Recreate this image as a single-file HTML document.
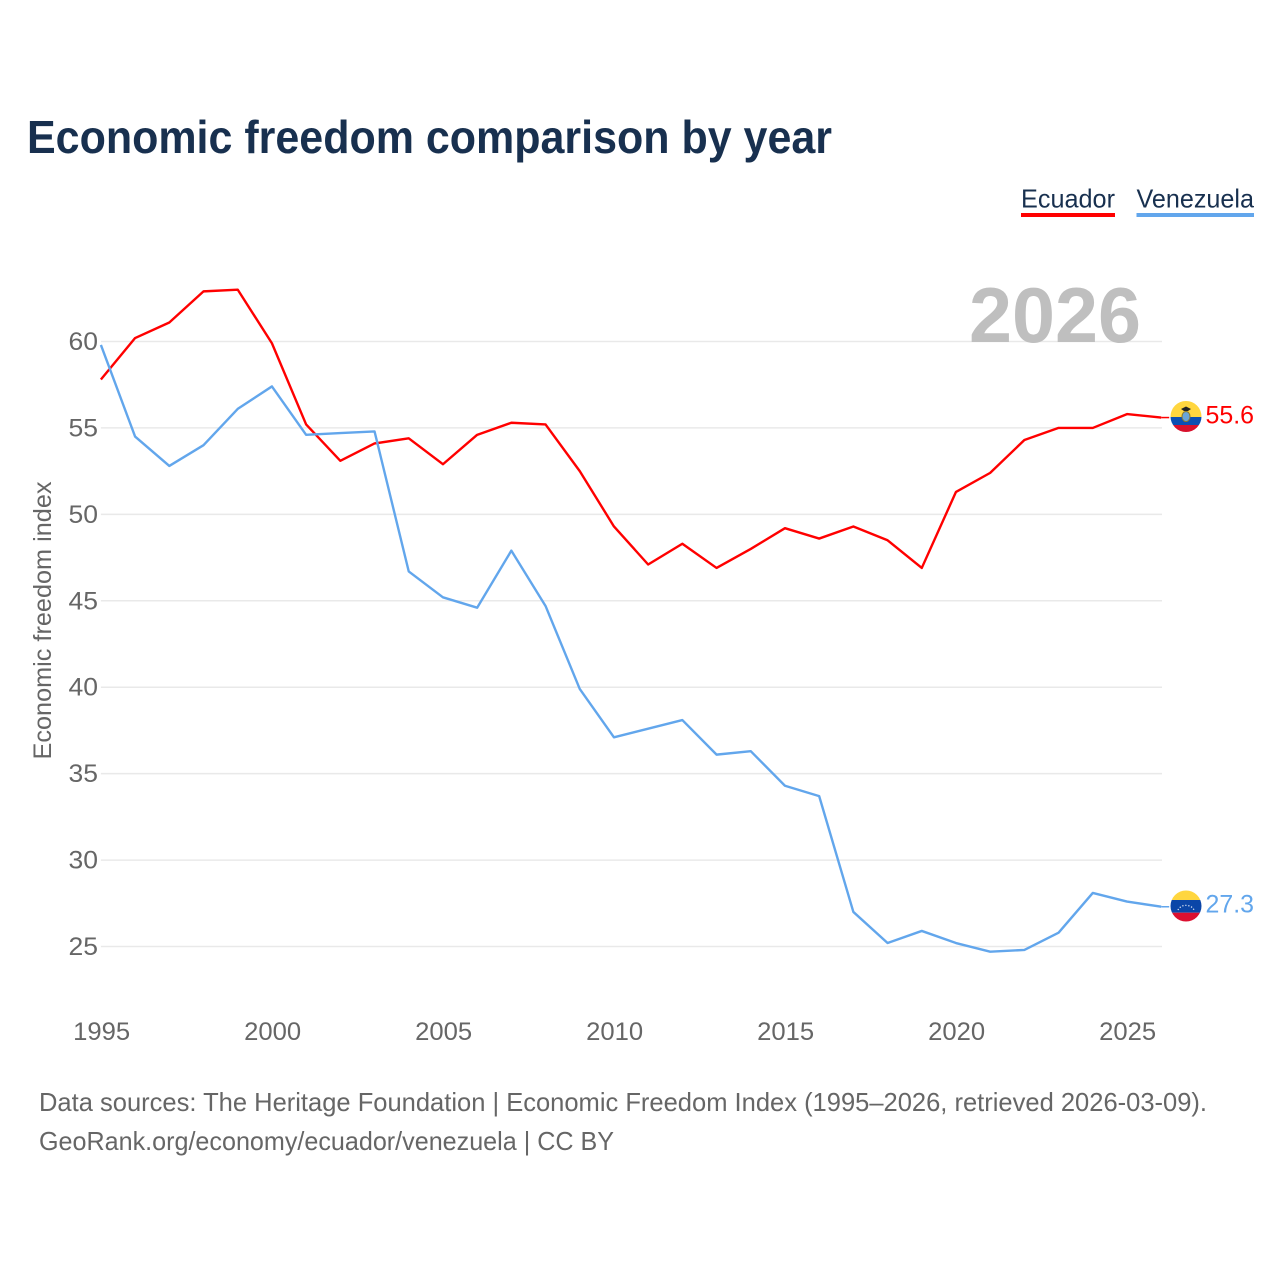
<!DOCTYPE html>
<html>
<head>
<meta charset="utf-8">
<style>
html,body{margin:0;padding:0;background:#fff;}
svg{display:block;}
text{font-family:"Liberation Sans",sans-serif;}
</style>
</head>
<body>
<svg id="chart" width="1280" height="1280" viewBox="0 0 1280 1280" xmlns="http://www.w3.org/2000/svg">
<rect width="1280" height="1280" fill="#fff"/>
<text x="27" y="153" font-size="46" font-weight="700" fill="#18304f" textLength="805" lengthAdjust="spacingAndGlyphs">Economic freedom comparison by year</text>
<text x="1021" y="207.5" font-size="26" fill="#18304f" textLength="94" lengthAdjust="spacingAndGlyphs">Ecuador</text>
<rect x="1021" y="213" width="94" height="4" fill="#ff0000"/>
<text x="1136.5" y="207.5" font-size="26" fill="#18304f" textLength="117.5" lengthAdjust="spacingAndGlyphs">Venezuela</text>
<rect x="1136.5" y="213" width="117.5" height="4" fill="#62a6ec"/>
<g id="grid"></g>
<text x="1141" y="342" font-size="78" font-weight="700" fill="#bfbfbf" text-anchor="end" textLength="172" lengthAdjust="spacingAndGlyphs">2026</text>
<g id="ticks"></g>
<text transform="translate(51,620.5) rotate(-90)" font-size="25" fill="#666" text-anchor="middle" textLength="278" lengthAdjust="spacingAndGlyphs">Economic freedom index</text>
<g id="series"></g>
<g>
<clipPath id="clipE"><circle cx="1186" cy="416.5" r="15.5"/></clipPath>
<g clip-path="url(#clipE)">
<rect x="1170" y="400" width="32" height="17" fill="#ffd63f"/>
<rect x="1170" y="417" width="32" height="8" fill="#0b4fb3"/>
<rect x="1170" y="425" width="32" height="8" fill="#d8102c"/>
<ellipse cx="1186" cy="416.5" rx="4" ry="5" fill="#6aa5d8" stroke="#8a7a30" stroke-width="1"/>
<path d="M1181 409 L1186 406.5 L1191 409 L1188 411 L1184 411 Z" fill="#222"/>
</g>
</g>
<g>
<clipPath id="clipV"><circle cx="1186" cy="906" r="15.5"/></clipPath>
<g clip-path="url(#clipV)">
<rect x="1170" y="890" width="32" height="10" fill="#ffd63f"/>
<rect x="1170" y="900" width="32" height="12.7" fill="#0b46a8"/>
<rect x="1170" y="912.7" width="32" height="10" fill="#dc1030"/>
<path d="M1178 910 A8.5 7 0 0 1 1194 910" fill="none" stroke="#fff" stroke-width="1.3" stroke-dasharray="1.2 1.8" opacity=".85"/>
</g>
</g>
<text x="1205.5" y="423.5" font-size="25" fill="#ff0000" textLength="48.5" lengthAdjust="spacingAndGlyphs">55.6</text>
<text x="1205.5" y="912.5" font-size="25" fill="#62a6ec" textLength="48.5" lengthAdjust="spacingAndGlyphs">27.3</text>
<text x="39" y="1111" font-size="26" fill="#666" textLength="1168" lengthAdjust="spacingAndGlyphs">Data sources: The Heritage Foundation | Economic Freedom Index (1995–2026, retrieved 2026-03-09).</text>
<text x="39" y="1150" font-size="26" fill="#666" textLength="575" lengthAdjust="spacingAndGlyphs">GeoRank.org/economy/ecuador/venezuela | CC BY</text>
</svg>
<script>
const years = [1995,1996,1997,1998,1999,2000,2001,2002,2003,2004,2005,2006,2007,2008,2009,2010,2011,2012,2013,2014,2015,2016,2017,2018,2019,2020,2021,2022,2023,2024,2025,2026];
const ecuador = [57.8,60.2,61.1,62.9,63.0,59.9,55.2,53.1,54.1,54.4,52.9,54.6,55.3,55.2,52.5,49.3,47.1,48.3,46.9,48.0,49.2,48.6,49.3,48.5,46.9,51.3,52.4,54.3,55.0,55.0,55.8,55.6];
const venezuela = [59.8,54.5,52.8,54.0,56.1,57.4,54.6,54.7,54.8,46.7,45.2,44.6,47.9,44.7,39.9,37.1,37.6,38.1,36.1,36.3,34.3,33.7,27.0,25.2,25.9,25.2,24.7,24.8,25.8,28.1,27.6,27.3];
const yTickValues = [25,30,35,40,45,50,55,60];
const xTickValues = [1995,2000,2005,2010,2015,2020,2025];

const NS = 'http://www.w3.org/2000/svg';
function xScale(year){ return 100.9 + (year - 1995) * (1161.2 - 100.9) / 31; }
function yScale(v){ return 341.5 + (60 - v) * (946.5 - 341.5) / 35; }
function make(tag, attrs, parent){
  const el = document.createElementNS(NS, tag);
  for (const k in attrs) el.setAttribute(k, attrs[k]);
  parent.appendChild(el);
  return el;
}
const gridG = document.getElementById('grid');
const ticksG = document.getElementById('ticks');
const seriesG = document.getElementById('series');

yTickValues.forEach(function(v){
  const line = make('line', {x1:xScale(1995), x2:1162, y1:yScale(v), y2:yScale(v), stroke:'#e9e9e9', 'stroke-width':1.5}, gridG);
  
  
  const t = make('text', {x:98, y:yScale(v)+8.5, 'font-size':25, fill:'#666', 'text-anchor':'end', textLength:29.5, lengthAdjust:'spacingAndGlyphs'}, ticksG);
  t.textContent = v;
  
  
});
xTickValues.forEach(function(y){
  const t = make('text', {x:xScale(y)+0.7, y:1040, 'font-size':25, fill:'#666', 'text-anchor':'middle', textLength:57, lengthAdjust:'spacingAndGlyphs'}, ticksG);
  t.textContent = y;
  
  
});
function drawSeries(values, color, name){
  const pts = values.map(function(v, i){ return xScale(years[i]).toFixed(2) + ',' + yScale(v).toFixed(2); });
  const last = values.length - 1;
  const path = make('polyline', {points:pts.join(' '), fill:'none', stroke:color, 'stroke-width':2.4, 'stroke-linejoin':'round'}, seriesG);
  
  
  const conn = make('line', {x1:xScale(years[last]), x2:xScale(years[last])+8, y1:yScale(values[last]), y2:yScale(values[last]), stroke:color, 'stroke-width':1.5}, seriesG);
  
  
}
drawSeries(ecuador, '#ff0000', 'ecuador');
drawSeries(venezuela, '#62a6ec', 'venezuela');
</script>
</body>
</html>
